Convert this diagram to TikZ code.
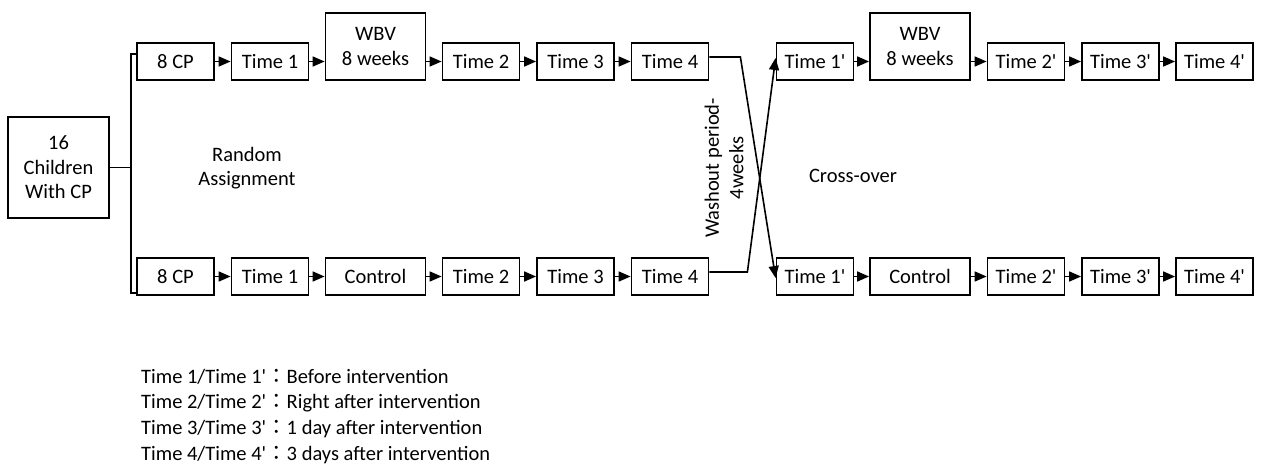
\documentclass[tikz,border=0pt]{standalone}
\usepackage{fontspec}
\setmainfont{Carlito}
\newfontfamily\cjk{Noto Sans CJK TC}
\usetikzlibrary{arrows.meta}
\newcommand{\prm}{\textquotesingle}
\newcommand{\fwcolon}{{\cjk ：}}

\begin{document}
\begin{tikzpicture}[x=1pt,y=1pt]
\tikzstyle{every node}+=[inner sep=0pt,align=center,font=\fontsize{20.5}{24.5}\selectfont]
\tikzstyle{tbox}=[draw=black,line width=1.8pt,minimum width=77pt,minimum height=37pt]
\tikzstyle{wbox}=[tbox,minimum width=100pt,minimum height=67pt]
\tikzstyle{cbox}=[tbox,minimum width=100pt]
\tikzstyle{arr}=[black,line width=1.6pt,-{Triangle[length=12pt,width=10pt]}]
\useasboundingbox (0,0) rectangle (1261,-471);
\node[tbox,minimum width=101pt,minimum height=101pt] (start) at (58.5,-167.5) {16\\Children\\With CP};
\node[tbox] (cpa) at (175.5,-61.5) {8 CP};
\node[tbox] (t1a) at (270,-61.5) {Time 1};
\node[wbox] (wa) at (375.5,-46.5) {WBV\\8 weeks};
\node[tbox] (t2a) at (481,-61.5) {Time 2};
\node[tbox] (t3a) at (575.5,-61.5) {Time 3};
\node[tbox] (t4a) at (670,-61.5) {Time 4};
\node[tbox] (t1c) at (815,-61.5) {Time 1\prm};
\node[wbox] (wc) at (920,-46.5) {WBV\\8 weeks};
\node[tbox] (t2c) at (1026,-61.5) {Time 2\prm};
\node[tbox] (t3c) at (1120.5,-61.5) {Time 3\prm};
\node[tbox] (t4c) at (1214.5,-61.5) {Time 4\prm};
\node[tbox] (cpb) at (175.5,-276.5) {8 CP};
\node[tbox] (t1b) at (270,-276.5) {Time 1};
\node[cbox] (cb) at (375.5,-276.5) {Control};
\node[tbox] (t2b) at (481,-276.5) {Time 2};
\node[tbox] (t3b) at (575.5,-276.5) {Time 3};
\node[tbox] (t4b) at (670,-276.5) {Time 4};
\node[tbox] (t1d) at (815,-276.5) {Time 1\prm};
\node[cbox] (cd) at (920,-276.5) {Control};
\node[tbox] (t2d) at (1026,-276.5) {Time 2\prm};
\node[tbox] (t3d) at (1120.5,-276.5) {Time 3\prm};
\node[tbox] (t4d) at (1214.5,-276.5) {Time 4\prm};
\node (rand) at (247,-168) {Random\\Assignment};
\node (cross) at (853,-176) {Cross-over};
\node[rotate=90] (wash) at (724,-168) {Washout period-\\4weeks};
\node[anchor=west] (k1) at (141,-377) {Time 1/Time 1\prm\fwcolon Before intervention};
\node[anchor=west] (k2) at (141,-403) {Time 2/Time 2\prm\fwcolon Right after intervention};
\node[anchor=west] (k3) at (141,-429) {Time 3/Time 3\prm\fwcolon 1 day after intervention};
\node[anchor=west] (k4) at (141,-455) {Time 4/Time 4\prm\fwcolon 3 days after intervention};
\coordinate (split) at (131,-167.5);
\draw [black,line width=1.6pt] (start.east) -- (split);
\draw [black,line width=1.6pt] ([yshift=7.5]cpa.west) -| (split) |- ([yshift=-16.5]cpb.west);
\draw [arr] (cpa) -- (t1a);
\draw [arr] (t1a) -- (wa.west |- t1a);
\draw [arr] (wa.east |- t2a) -- (t2a);
\draw [arr] (t2a) -- (t3a);
\draw [arr] (t3a) -- (t4a);
\draw [arr] (t1c) -- (wc.west |- t1c);
\draw [arr] (wc.east |- t2c) -- (t2c);
\draw [arr] (t2c) -- (t3c);
\draw [arr] (t3c) -- (t4c);
\draw [arr] (cpb) -- (t1b);
\draw [arr] (t1b) -- (cb);
\draw [arr] (cb) -- (t2b);
\draw [arr] (t2b) -- (t3b);
\draw [arr] (t3b) -- (t4b);
\draw [arr] (t1d) -- (cd);
\draw [arr] (cd) -- (t2d);
\draw [arr] (t2d) -- (t3d);
\draw [arr] (t3d) -- (t4d);
\draw [arr] ([yshift=4.5]t4a.east) -- ++(31,0) -- ([yshift=-1.5]t1d.west);
\draw [arr] ([yshift=4.5]t4b.east) -- ++(38,0) -- ([yshift=3.5]t1c.west);
\end{tikzpicture}
\end{document}
